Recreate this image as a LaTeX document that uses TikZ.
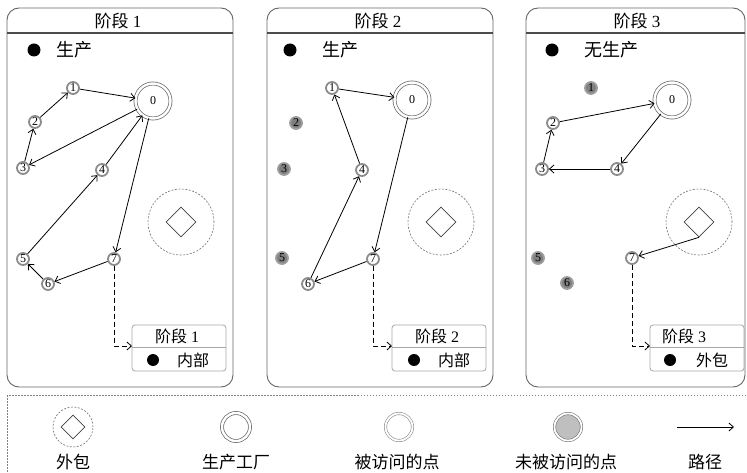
\documentclass[tikz,border=0pt]{standalone}
\usepackage{fontspec}
\setmainfont{Liberation Serif}
\newfontfamily\cjk{Noto Sans CJK SC}
\usetikzlibrary{arrows.meta,shapes.geometric}
\newcommand\zh[1]{{\cjk #1}}
\tikzset{
  panel/.style={draw=black!60, line width=0.9pt, rounded corners=12pt},
  sepline/.style={draw=black!70, line width=1.3pt},
  vis/.style={circle, draw=black!45, line width=1.8pt, fill=white, inner sep=0pt, minimum size=12pt, font=\fontsize{12}{12}\selectfont},
  unvis/.style={vis, fill=black!50, draw=black!38},
  plant/.style={circle, draw=black!60, double, double distance=2.4pt, line width=0.7pt, minimum size=35pt, inner sep=0pt, font=\fontsize{12}{12}\selectfont},
  outs/.style={circle, draw=black!55, dash pattern=on 2pt off 1.5pt, line width=0.6pt, minimum size=66pt, inner sep=0pt},
  dia/.style={diamond, draw=black!75, line width=0.7pt, minimum width=30pt, minimum height=30pt, inner sep=0pt},
  route/.style={draw=black, line width=0.8pt, -{Straight Barb[length=4.5pt,width=8pt]}},
  dashroute/.style={route, dash pattern=on 5pt off 3pt},
  dotb/.style={circle, fill=black, minimum size=13pt, inner sep=0pt},
  ttl/.style={font=\fontsize{17}{17}\selectfont, inner sep=0pt},
  lbl/.style={font=\fontsize{18}{18}\selectfont, inner sep=0pt},
  boxtxt/.style={font=\fontsize{16}{16}\selectfont, inner sep=0pt},
  ibox/.style={draw=black!35, line width=0.8pt, rounded corners=3pt, minimum width=94pt, minimum height=46pt, inner sep=0pt},
  ibline/.style={draw=black!35, line width=0.8pt},
  legbox/.style={draw=black!50, line width=0.7pt, dash pattern=on 1.5pt off 1.5pt},
  legtxt/.style={font=\fontsize{17}{17}\selectfont, inner sep=0pt},
}
\begin{document}
\begin{tikzpicture}[x=1pt,y=-1pt]
\useasboundingbox (0,0) rectangle (747,473);
\clip (0,0) rectangle (747,473);

% ---------- panels ----------
\draw[panel] (7,8) rectangle (233,387);
\draw[sepline] (7,33) -- (233,33);
\node[ttl] (t1) at (118,21) {\zh{阶段}~1};
\draw[panel] (267,8) rectangle (493,387);
\draw[sepline] (267,33) -- (493,33);
\node[ttl] (t2) at (378,21) {\zh{阶段}~2};
\draw[panel] (526,8) rectangle (745,387);
\draw[sepline] (526,33) -- (745,33);
\node[ttl] (t3) at (637,21) {\zh{阶段}~3};

% ---------- panel 1 ----------
\node[dotb] (pa) at (34,50) {};
\node[lbl] (pal) at (74,50) {\zh{生产}};
\node[plant] (a0) at (153,101) {0};
\node[vis] (a1) at (73,88) {1};
\node[vis] (a2) at (35,122) {2};
\node[vis] (a3) at (23,168) {3};
\node[vis] (a4) at (102,170) {4};
\node[vis] (a5) at (23,259) {5};
\node[vis] (a6) at (48,284) {6};
\node[vis] (a7) at (114,259) {7};
\node[outs] (ao) at (181,222) {};
\node[dia] (ad) at (181,222) {};
\draw[route] (a0) -- (a3);
\draw[route] (a3) -- (a2);
\draw[route] (a2) -- (a1);
\draw[route] (a1) -- (a0);
\draw[route] (a0) -- (a7);
\draw[route] (a7) -- (a6);
\draw[route] (a6) -- (a5);
\draw[route] (a5) -- (a4);
\draw[route] (a4) -- (a0);
\node[ibox] (boxa) at (179,348) {};
\draw[ibline] (132,347) -- (226,347);
\node[boxtxt] (boxat) at (177,336) {\zh{阶段}~1};
\node[dotb, minimum size=12pt] (boxad) at (153,360) {};
\node[boxtxt] (boxal) at (193,360) {\zh{内部}};
\coordinate (ea) at (132,346);
\draw[dashroute] (a7) |- (ea);

% ---------- panel 2 ----------
\node[dotb] (pb) at (290,50) {};
\node[lbl] (pbl) at (340,50) {\zh{生产}};
\node[plant] (b0) at (412,100) {0};
\node[vis] (b1) at (332,88) {1};
\node[unvis] (b2) at (296,123) {2};
\node[unvis] (b3) at (284,169) {3};
\node[vis] (b4) at (362,170) {4};
\node[unvis] (b5) at (282,258) {5};
\node[vis] (b6) at (308,284) {6};
\node[vis] (b7) at (373,259) {7};
\node[outs] (bo) at (441,222) {};
\node[dia] (bd) at (441,222) {};
\draw[route] (b0) -- (b7);
\draw[route] (b7) -- (b6);
\draw[route] (b6) -- (b4);
\draw[route] (b4) -- (b1);
\draw[route] (b1) -- (b0);
\node[ibox] (boxb) at (439,348) {};
\draw[ibline] (392,347) -- (486,347);
\node[boxtxt] (boxbt) at (437,336) {\zh{阶段}~2};
\node[dotb, minimum size=12pt] (boxbd) at (414,360) {};
\node[boxtxt] (boxbl) at (454,360) {\zh{内部}};
\coordinate (eb) at (392,346);
\draw[dashroute] (b7) |- (eb);

% ---------- panel 3 ----------
\node[dotb] (pc) at (552,50) {};
\node[lbl] (pcl) at (611,50) {\zh{无生产}};
\node[plant] (c0) at (672,100) {0};
\node[unvis] (c1) at (591,88) {1};
\node[vis] (c2) at (553,123) {2};
\node[vis] (c3) at (542,169) {3};
\node[vis] (c4) at (617,169) {4};
\node[unvis] (c5) at (538,258) {5};
\node[unvis] (c6) at (567,283) {6};
\node[vis] (c7) at (632,258) {7};
\node[outs] (co) at (699,222) {};
\node[dia] (cd) at (699,222) {};
\draw[route] (c0) -- (c4);
\draw[route] (c4) -- (c3);
\draw[route] (c3) -- (c2);
\draw[route] (c2) -- (c0);
\draw[route] (cd.south) -- (c7);
\node[ibox] (boxc) at (697,348) {};
\draw[ibline] (650,347) -- (744,347);
\node[boxtxt] (boxct) at (684,336) {\zh{阶段}~3};
\node[dotb, minimum size=12pt] (boxcd) at (670,360) {};
\node[boxtxt] (boxcl) at (712,360) {\zh{外包}};
\coordinate (ec) at (650,346);
\draw[dashroute] (c7) |- (ec);

% ---------- legend ----------
\draw[legbox] (7,395) rectangle (760,490);
\node[outs, minimum size=40pt] (lo) at (73,427) {};
\node[dia, minimum width=24pt, minimum height=24pt] (ld) at (73,427) {};
\node[plant, minimum size=28pt] (lp) at (236,427) {};
\node[plant, draw=black!45, line width=0.6pt, double distance=1.8pt, minimum size=27pt] (lv) at (399,427) {};
\node[plant, draw=black!55, fill=black!25, line width=0.6pt, double distance=1.8pt, minimum size=27pt] (lu) at (568,427) {};
\coordinate (la) at (677,427);
\coordinate (lb) at (734,427);
\draw[route] (la) -- (lb);
\node[legtxt] (lt1) at (73,462) {\zh{外包}};
\node[legtxt] (lt2) at (236,462) {\zh{生产工厂}};
\node[legtxt] (lt3) at (397,462) {\zh{被访问的点}};
\node[legtxt] (lt4) at (566,462) {\zh{未被访问的点}};
\node[legtxt] (lt5) at (705,462) {\zh{路径}};
\end{tikzpicture}
\end{document}
